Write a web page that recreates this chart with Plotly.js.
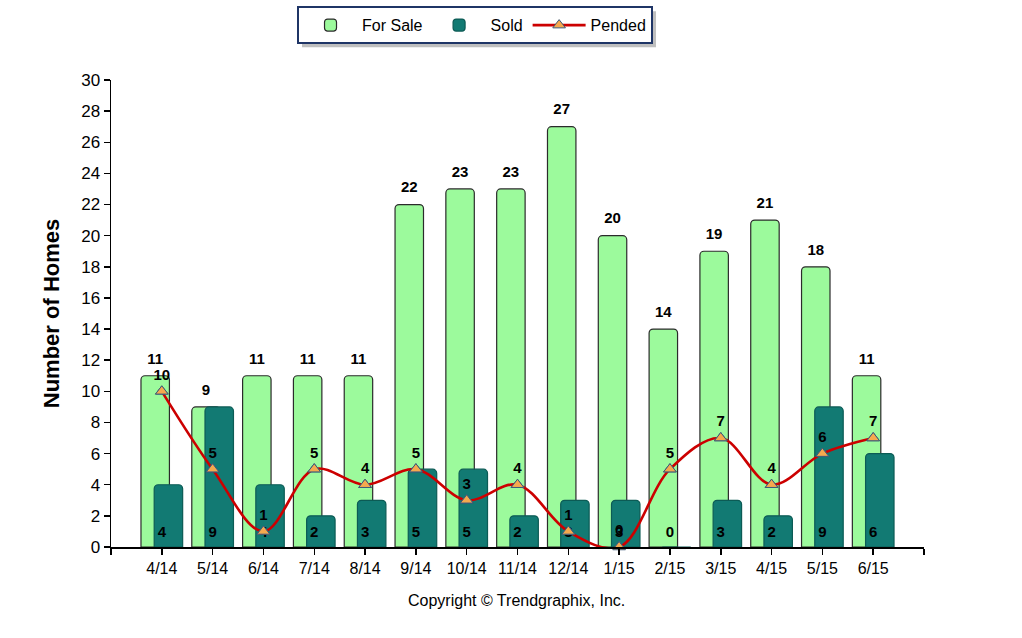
<!DOCTYPE html>
<html>
<head>
<meta charset="utf-8">
<script src="https://cdn.plot.ly/plotly-3.0.1.min.js"></script>
<style>html,body{margin:0;padding:0;background:#fff;}#chart{width:1022px;height:638px;}</style>
</head>
<body>
<div id="chart"></div>
<script>
var months = ['4/14','5/14','6/14','7/14','8/14','9/14','10/14','11/14','12/14','1/15','2/15','3/15','4/15','5/15','6/15'];
var forSale = [11, 9, 11, 11, 11, 22, 23, 23, 27, 20, 14, 19, 21, 18, 11];
var sold    = [4, 9, 4, 2, 3, 5, 5, 2, 3, 3, 0, 3, 2, 9, 6];
var pended  = [10, 5, 1, 5, 4, 5, 3, 4, 1, 0, 5, 7, 4, 6, 7];
var yTicks  = [0, 2, 4, 6, 8, 10, 12, 14, 16, 18, 20, 22, 24, 26, 28, 30];

var idx = months.map(function(m, i){ return i; });
var tickVals = [-1].concat(idx, [months.length]);
var tickText = [''].concat(months, ['']);
var zeros = months.map(function(){ return 0; });

var FS_W = 0.56, FS_OFF = -0.41, SOLD_W = 0.56, SOLD_OFF = -0.15;
var fsCenters = idx.map(function(i){ return i + FS_OFF + FS_W / 2; });

var labelFont = {family: 'Liberation Sans, Arial, sans-serif', size: 15, color: '#000000', weight: 'bold'};

var traces = [
  {
    type: 'bar', name: 'For Sale', x: idx, y: forSale,
    width: FS_W, offset: FS_OFF,
    marker: {color: '#9CFA9C', line: {color: '#2b2b2b', width: 1.2}, cornerradius: 4},
    hoverinfo: 'y+name'
  },
  {
    type: 'bar', name: 'Sold', x: idx, y: sold,
    width: SOLD_W, offset: SOLD_OFF,
    marker: {color: '#127A73', line: {color: '#0c5b55', width: 1.2}, cornerradius: 4},
    hoverinfo: 'y+name'
  },
  {
    type: 'scatter', mode: 'markers+text', x: fsCenters, y: forSale, showlegend: false,
    marker: {size: 12, opacity: 0},
    text: forSale.map(String), textposition: 'top center', textfont: labelFont,
    cliponaxis: false, hoverinfo: 'skip'
  },
  {
    type: 'scatter', mode: 'markers+text', x: idx, y: zeros, showlegend: false,
    marker: {size: 9, opacity: 0},
    text: sold.map(String), textposition: 'top center', textfont: labelFont,
    cliponaxis: false, hoverinfo: 'skip'
  },
  {
    type: 'scatter', mode: 'lines+markers', name: 'Pended', x: idx, y: pended,
    line: {color: '#CC0000', width: 2.6, shape: 'spline', smoothing: 1},
    marker: {symbol: 'triangle-up', size: 11, color: '#F5A94E', line: {color: '#3C5A7A', width: 1}},
    cliponaxis: true
  },
  {
    type: 'scatter', mode: 'markers+text', x: idx, y: pended, showlegend: false,
    marker: {symbol: 'triangle-up', size: 11, color: '#F5A94E', line: {color: '#3C5A7A', width: 1}},
    text: pended.map(String), textposition: 'top center', textfont: labelFont,
    cliponaxis: false, hoverinfo: 'skip'
  }
];

var layout = {
  width: 1022, height: 638,
  margin: {l: 111, r: 98, t: 80, b: 91, autoexpand: false},
  paper_bgcolor: '#ffffff', plot_bgcolor: '#ffffff',
  barmode: 'overlay',
  showlegend: true,
  font: {family: 'Liberation Sans, Arial, sans-serif', color: '#000000'},
  legend: {
    orientation: 'h', x: 0.2288, xanchor: 'left', y: 1.158, yanchor: 'top',
    bgcolor: '#ffffff', bordercolor: '#1F3566', borderwidth: 2,
    font: {family: 'Liberation Sans, Arial, sans-serif', size: 16, color: '#000000'},
    traceorder: 'normal', itemwidth: 53
  },
  xaxis: {
    range: [-1, months.length], tickmode: 'array', tickvals: tickVals, ticktext: tickText,
    showgrid: false, zeroline: false, showline: true, linecolor: '#000000', linewidth: 1.5,
    ticks: 'outside', ticklen: 6, tickcolor: '#000000', tickwidth: 1.5,
    tickfont: {size: 16, color: '#000000'}, fixedrange: true
  },
  yaxis: {
    range: [0, 30], tickmode: 'array', tickvals: yTicks,
    showgrid: false, zeroline: false, showline: true, linecolor: '#000000', linewidth: 1.5,
    ticks: 'outside', ticklen: 6, tickcolor: '#000000', tickwidth: 1.5,
    tickfont: {size: 17, color: '#000000'},
    title: {text: 'Number of Homes', font: {size: 22, weight: 'bold', color: '#000000'}, standoff: 15},
    fixedrange: true
  },
  annotations: [
    {text: 'Copyright © Trendgraphix, Inc.', xref: 'paper', yref: 'paper', x: 0.499, y: -0.115,
     xanchor: 'center', yanchor: 'middle', showarrow: false,
     font: {size: 16, color: '#000000'}}
  ]
};

Plotly.newPlot('chart', traces, layout, {displayModeBar: false, staticPlot: true}).then(function(gd){
  var bg = gd.querySelector('.legend .bg');
  if (!bg) return;
  var r = bg.getBoundingClientRect();
  var c = gd.getBoundingClientRect();
  var sz = gd._fullLayout._size;
  function px2x(p){ return (p - sz.l) / sz.w; }
  function py2y(p){ return 1 - (p - sz.t) / sz.h; }
  var L = r.left - c.left, T = r.top - c.top, R = r.right - c.left, B = r.bottom - c.top;
  Plotly.relayout(gd, {shapes: [{
    type: 'rect', xref: 'paper', yref: 'paper',
    x0: px2x(L + 4), x1: px2x(R + 4), y0: py2y(B + 4), y1: py2y(T + 4),
    fillcolor: '#8a8a8a', opacity: 0.55, line: {width: 0}, layer: 'above'
  }]});
});
</script>
</body>
</html>
